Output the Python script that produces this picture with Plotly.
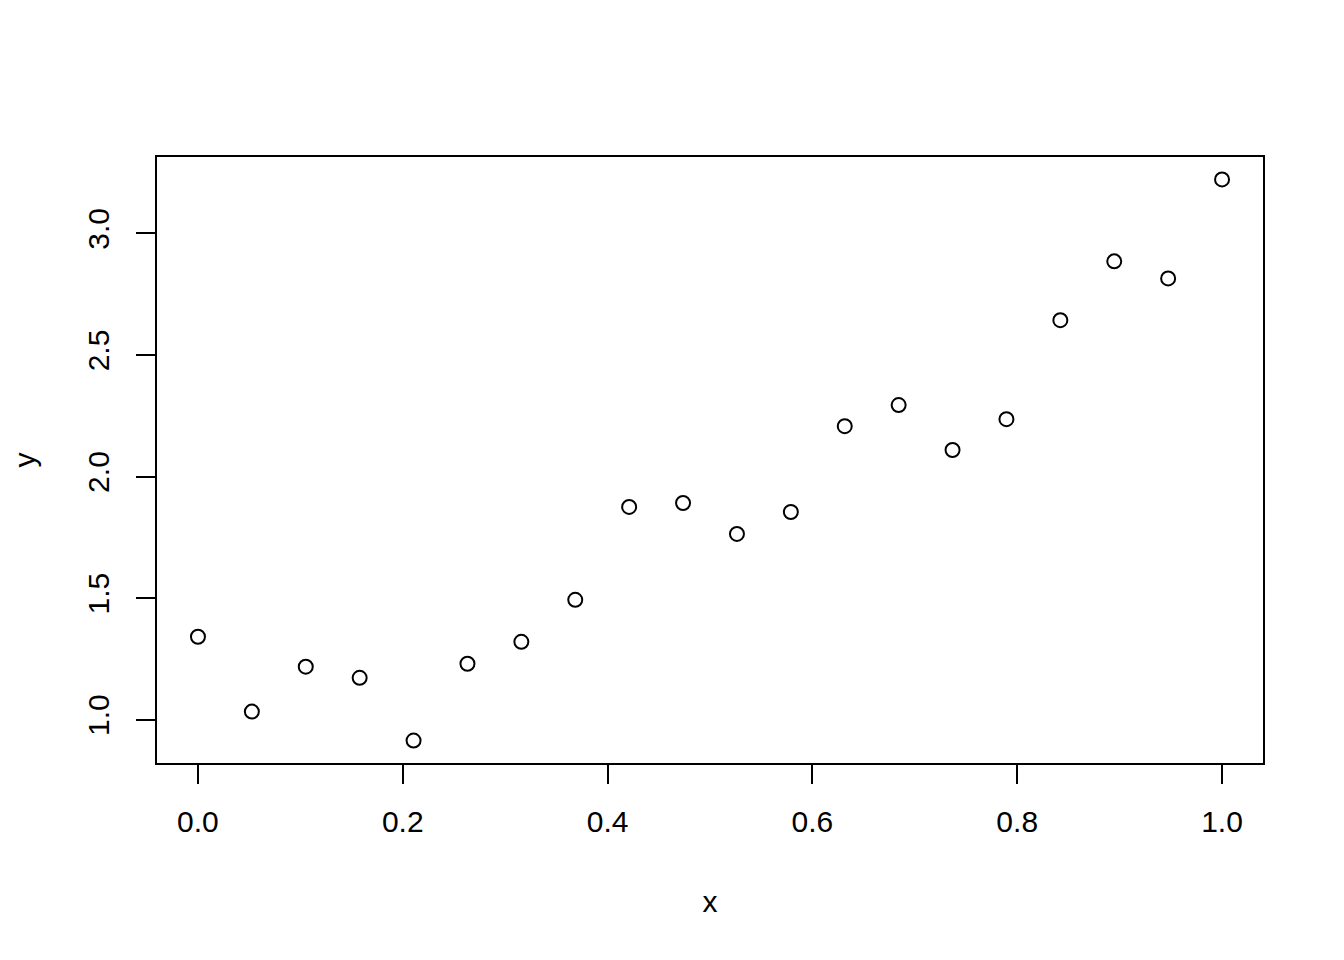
import plotly.graph_objects as go

x_values = [i / 19 for i in range(20)]
y_values = [1.341, 1.033, 1.218, 1.172, 0.914, 1.230, 1.320, 1.493, 1.875, 1.891,
            1.764, 1.854, 2.207, 2.294, 2.109, 2.236, 2.643, 2.885, 2.815, 3.222]
x_ticks = [0.0, 0.2, 0.4, 0.6, 0.8, 1.0]
x_tick_labels = ["0.0", "0.2", "0.4", "0.6", "0.8", "1.0"]
y_ticks = [1.0, 1.5, 2.0, 2.5, 3.0]
y_tick_labels = ["1.0", "1.5", "2.0", "2.5", "3.0"]

ymin, ymax = min(y_values), max(y_values)
ypad = 0.04 * (ymax - ymin)

fig = go.Figure(go.Scatter(
    x=x_values, y=y_values, mode="markers",
    marker=dict(symbol="circle-open", size=14, color="black", line=dict(width=2, color="black")),
))

font = dict(family="Liberation Sans, Arial, sans-serif", size=30, color="black")

fig.update_layout(
    width=1344, height=960,
    margin=dict(l=149, r=89, t=149, b=205),
    plot_bgcolor="white", paper_bgcolor="white",
    showlegend=False,
    font=font,
)
fig.update_xaxes(
    range=[-0.04, 1.04], tickvals=x_ticks, ticktext=x_tick_labels,
    showgrid=False, zeroline=False, showline=True, mirror=True,
    linecolor="black", linewidth=2,
    ticks="outside", ticklen=19, tickwidth=2, tickcolor="black",
    ticklabelstandoff=12, automargin=False,
    title=dict(text="x", standoff=54, font=font),
)
fig.update_yaxes(
    range=[ymin - ypad, ymax + ypad], tickvals=y_ticks, ticktext=y_tick_labels,
    tickangle=-90,
    showgrid=False, zeroline=False, showline=True, mirror=True,
    linecolor="black", linewidth=2,
    ticks="outside", ticklen=19, tickwidth=2, tickcolor="black",
    ticklabelstandoff=15, automargin=False,
    title=dict(text="y", standoff=47, font=font),
)

fig.write_html("out.html")
